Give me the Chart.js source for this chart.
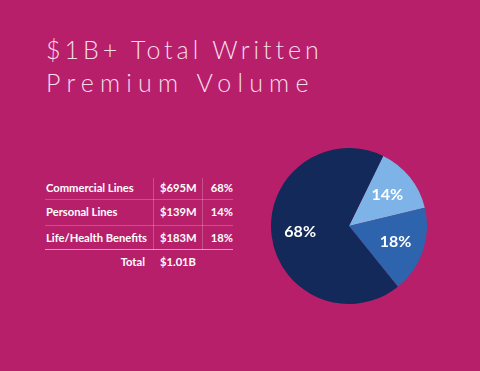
<!DOCTYPE html>
<html>
<head>
<meta charset="utf-8">
<script src="https://cdn.jsdelivr.net/npm/chart.js@4.4.0/dist/chart.umd.min.js"></script>
<style>
  html, body { margin: 0; padding: 0; }
  body {
    width: 480px; height: 371px; overflow: hidden; position: relative;
    background: #b81f6b; font-family: Lato, "Open Sans", sans-serif; color: #fff;
  }
  .title {
    position: absolute; left: 46px; top: 33px;
    font-weight: 300; font-size: 25px; line-height: 33px;
    color: #f6dce9; white-space: nowrap;
  }
  .title .l1 { letter-spacing: 3.95px; }
  .title .l2 { letter-spacing: 6.2px; }
  .cell { position: absolute; font-weight: 700; font-size: 11.2px; white-space: nowrap; }
  .hline { position: absolute; height: 1px; background: rgba(255,255,255,0.22); }
  .hline.strong { background: rgba(255,255,255,0.55); }
  .vline { position: absolute; width: 1px; background: rgba(255,255,255,0.22); }
  #wrap { position: absolute; left: 271px; top: 148px; width: 156px; height: 156px; }
</style>
</head>
<body>
<div class="title"><span class="l1">$1B+ Total Written</span><br><span class="l2">Premium Volume</span></div>
<div id="table"></div>
<div id="wrap"><canvas id="pie"></canvas></div>
<script>
  // 表格数据
  const categories = ['Commercial Lines', 'Personal Lines', 'Life/Health Benefits'];
  const amounts = ['$695M', '$139M', '$183M'];
  const shares = [68, 14, 18];
  const totalLabel = 'Total';
  const totalAmount = '$1.01B';

  // 饼图顺序（从顶部右侧开始顺时针）
  const pieLabels = ['Personal Lines', 'Life/Health Benefits', 'Commercial Lines'];
  const pieValues = [14, 18, 68];
  const pieColors = ['#7db3e6', '#2e63ad', '#12295a'];

  const table = document.getElementById('table');
  const rowY = [181, 205, 231];

  function addCell(text, left, top, align, width) {
    const d = document.createElement('div');
    d.className = 'cell';
    d.textContent = text;
    d.style.left = left + 'px';
    d.style.top = top + 'px';
    if (align === 'right') {
      d.style.width = width + 'px';
      d.style.textAlign = 'right';
    }
    table.appendChild(d);
  }
  function addLine(cls, left, top, w, h) {
    const d = document.createElement('div');
    d.className = cls;
    d.style.left = left + 'px';
    d.style.top = top + 'px';
    if (w) d.style.width = w + 'px';
    if (h) d.style.height = h + 'px';
    table.appendChild(d);
  }

  categories.forEach((c, i) => {
    addCell(c, 46, rowY[i], 'left');
    addCell(amounts[i], 160, rowY[i], 'left');
    addCell(shares[i] + '%', 202, rowY[i], 'right', 31);
  });
  addCell(totalLabel, 46, 255, 'right', 99);
  addCell(totalAmount, 160, 255, 'left');

  addLine('hline', 45, 199, 188);
  addLine('hline', 45, 225, 188);
  addLine('hline strong', 45, 249, 188);
  addLine('vline', 153, 178, 0, 72);
  addLine('vline', 202, 178, 0, 72);

  // 扇区百分比标签
  const sliceLabels = {
    id: 'sliceLabels',
    afterDatasetsDraw(chart) {
      const ctx = chart.ctx;
      const meta = chart.getDatasetMeta(0);
      ctx.save();
      ctx.fillStyle = '#ffffff';
      ctx.font = 'bold 16px Lato, "Open Sans", sans-serif';
      ctx.textAlign = 'center';
      ctx.textBaseline = 'middle';
      meta.data.forEach((arc, i) => {
        const p = arc.getProps(['x', 'y', 'startAngle', 'endAngle', 'outerRadius'], true);
        const a = (p.startAngle + p.endAngle) / 2;
        const r = p.outerRadius * 0.63;
        ctx.fillText(pieValues[i] + '%', p.x + Math.cos(a) * r, p.y + Math.sin(a) * r);
      });
      ctx.restore();
    }
  };

  new Chart(document.getElementById('pie'), {
    type: 'pie',
    data: {
      labels: pieLabels,
      datasets: [{
        data: pieValues,
        backgroundColor: pieColors,
        borderWidth: 0
      }]
    },
    options: {
      responsive: true,
      maintainAspectRatio: false,
      animation: false,
      rotation: 26,
      layout: { padding: 0 },
      plugins: {
        legend: { display: false },
        tooltip: { enabled: false }
      }
    },
    plugins: [sliceLabels]
  });
</script>
</body>
</html>
